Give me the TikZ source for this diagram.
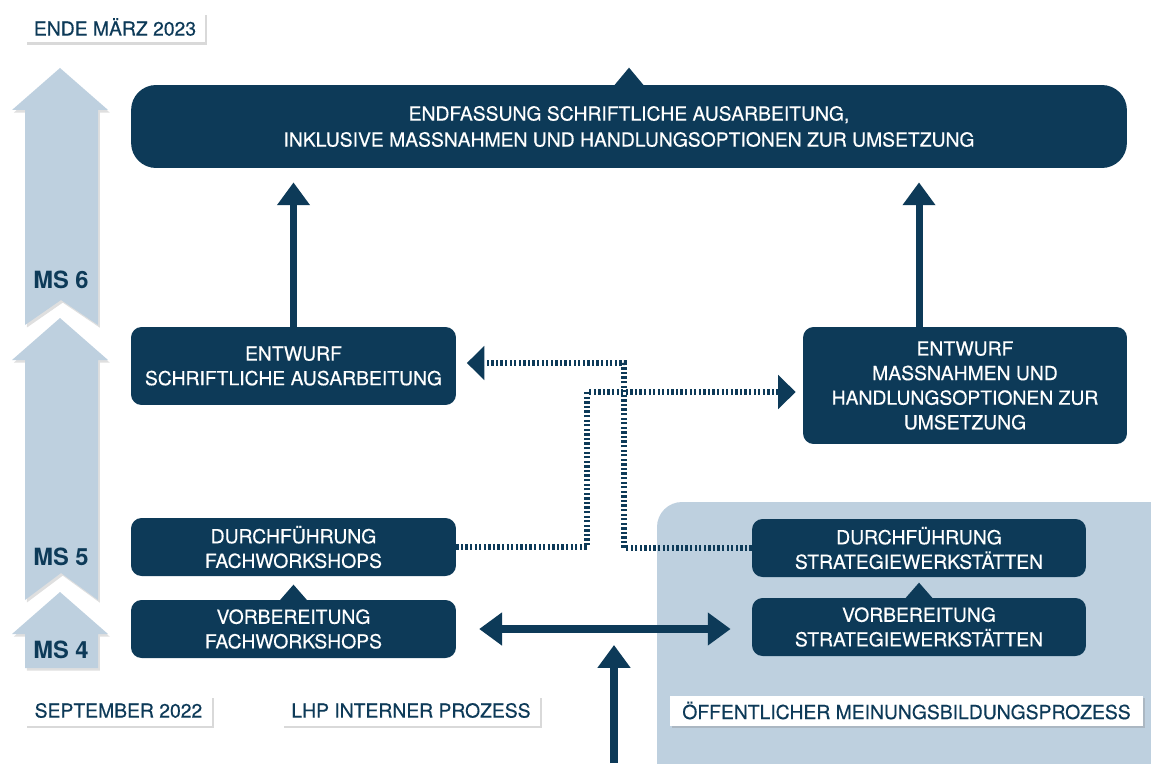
\documentclass[tikz,border=0pt]{standalone}
\usepackage{fontspec}
\setmainfont{TeX Gyre Heros}[UprightFeatures={FakeBold=0.35}]
\usepackage{tikz}
\usetikzlibrary{arrows.meta}
\usetikzlibrary{shadows}
\definecolor{lhpnavy}{RGB}{13,58,88}
\definecolor{lhppaper}{RGB}{190,208,223}

\begin{document}
\begin{tikzpicture}[x=0.02cm, y=-0.02cm,
    phase/.style={fill=lhpnavy, text=white, rounded corners=6pt, align=center, inner sep=0pt,
        font=\fontsize{11}{14}\selectfont, minimum width=6.5cm, minimum height=1.16cm},
    tag/.style={fill=white, text=lhpnavy, font=\fontsize{11}{13}\selectfont, inner sep=0pt,
        minimum height=0.6cm, drop shadow={shadow xshift=1pt, shadow yshift=-1.5pt, opacity=0.3}},
    mslabel/.style={text=lhpnavy, font=\bfseries\fontsize{13.5}{16}\selectfont},
    bigarrow/.style={lhpnavy, line width=4pt, -{Triangle[width=18pt,length=13pt]}},
    dashlink/.style={lhpnavy, line width=3pt, dash pattern=on 1.3pt off 1.3pt,
        -{Triangle[width=19pt,length=10pt]}, shorten >=4pt}]
        \useasboundingbox (0,0) rectangle (1151,763);
        \begin{scope}
            \clip (0,0) rectangle (1151,763);
            \fill[lhppaper, rounded corners=0.5cm] (657,502) rectangle (1180,790);
        \end{scope}
        \foreach \tip/\bot/\notch/\ms/\my in {68/325/25/6/280, 318/600/27/5/557, 592/668/0/4/650}
        {
            \fill[lhppaper, drop shadow={shadow xshift=1pt, shadow yshift=-1.5pt, opacity=0.25}]
                (60,\tip) -- (108,\tip+42) -- (98,\tip+42) -- (98,\bot) -- (61,\bot-\notch)
                -- (25,\bot) -- (25,\tip+42) -- (12,\tip+42) -- cycle;
            \node[mslabel] (ms\ms) at (61,\my) {MS \ms};
        }

        \node[phase, minimum width=19.92cm, minimum height=1.66cm, rounded corners=0.5cm,
            font=\fontsize{11}{14.8}\selectfont] (endfassung) at (629,126.5)
            {ENDFASSUNG SCHRIFTLICHE AUSARBEITUNG,\\INKLUSIVE MASSNAHMEN UND HANDLUNGSOPTIONEN ZUR UMSETZUNG};
        \fill[lhpnavy] (endfassung.north) ++(-15,1) -- ++(15,-18) -- ++(15,18) -- cycle;
        \node[phase, minimum height=1.56cm] (entwurfA) at (293.5,366) {ENTWURF\\SCHRIFTLICHE AUSARBEITUNG};
        \node[phase, minimum width=6.48cm, minimum height=2.34cm] (entwurfM) at (965,385.5)
            {ENTWURF\\MASSNAHMEN UND\\HANDLUNGSOPTIONEN ZUR\\UMSETZUNG};
        \node[phase] (durchfuehrungF) at (293.5,547) {DURCHFÜHRUNG\\FACHWORKSHOPS};
        \node[phase] (vorbereitungF) at (293.5,629) {VORBEREITUNG\\FACHWORKSHOPS};
        \node[phase, minimum width=6.68cm] (durchfuehrungS) at (919,548) {DURCHFÜHRUNG\\STRATEGIEWERKSTÄTTEN};
        \node[phase, minimum width=6.68cm] (vorbereitungS) at (919,627) {VORBEREITUNG\\STRATEGIEWERKSTÄTTEN};
        \foreach \stage in {vorbereitungF, vorbereitungS}
        {
            \fill[lhpnavy] (\stage.north) ++(-14,1) -- ++(14,-16) -- ++(14,16) -- cycle;
        }

        \node[tag, minimum width=3.6cm] (ende) at (115,27) {ENDE MÄRZ 2023};
        \node[tag, minimum width=3.74cm] (september) at (118.5,710.5) {SEPTEMBER 2022};
        \node[tag, minimum width=5.16cm] (intern) at (411,710.5) {LHP INTERNER PROZESS};
        \node[tag, minimum width=9.46cm] (oeffentlich) at (906.5,710.5) {ÖFFENTLICHER MEINUNGSBILDUNGSPROZESS};

        \draw[bigarrow, shorten >=8pt] (entwurfA.north) -- (entwurfA.north |- endfassung.south);
        \draw[bigarrow, shorten >=8pt] (entwurfM.north -| durchfuehrungS) -- (endfassung.south -| durchfuehrungS);
        \draw[bigarrow, {Triangle[width=18pt,length=13pt]}-{Triangle[width=18pt,length=13pt]},
            shorten <=13pt, shorten >=12pt] (vorbereitungF.east) -- (vorbereitungF.east -| vorbereitungS.west);
        \coordinate (entry) at (614,763);
        \coordinate (meet) at (614,645);
        \draw[bigarrow] (entry) -- (meet);

        \draw[dashlink] (durchfuehrungF.east) -- (587,547) -- (587,392) -- (entwurfM.west |- 0,392);
        \draw[dashlink, shorten >=6pt] (durchfuehrungS.west) -- (624,548) -- (624,363) -- (entwurfA.east |- 0,363);
   \end{tikzpicture}
\end{document}
